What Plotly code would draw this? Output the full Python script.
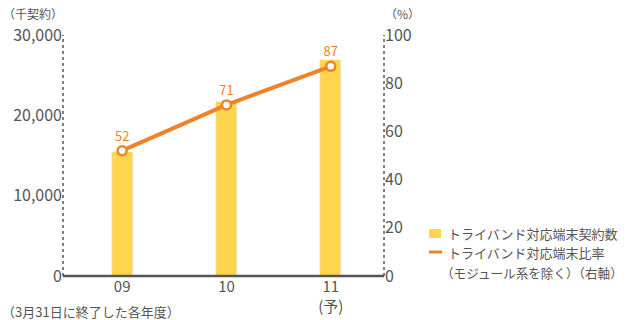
import plotly.graph_objects as go

categories = ["09", "10", "11"]
tick_labels = ["09", "10", "11<br>(予)"]
contracts = [15400, 21700, 26900]
ratio = [52, 71, 87]
legend_bar = "トライバンド対応端末契約数"
legend_line = ["トライバンド対応端末比率", "（モジュール系を除く）（右軸）"]

x = list(range(len(categories)))
FONT = "Noto Sans CJK JP"
GRAY = "#555555"
ORANGE = "#F08228"
YELLOW = "#FFD54F"
W, H = 628, 320
L, R, T, B = 63, 244, 35, 44
PW, PH = W - L - R, H - T - B


def px(xp):
    return (xp - L) / PW


def py(yp):
    return (H - B - yp) / PH


fig = go.Figure()
fig.add_trace(go.Bar(
    x=x, y=contracts, width=0.2, marker_color=YELLOW,
    name=legend_bar, yaxis="y", showlegend=False,
))
fig.add_trace(go.Scatter(
    x=x, y=ratio, yaxis="y2", mode="lines+markers+text",
    line=dict(color=ORANGE, width=4),
    marker=dict(size=9, color="white", line=dict(color=ORANGE, width=2.5)),
    text=[str(v) for v in ratio], textposition="top center",
    textfont=dict(color=ORANGE, size=13, family=FONT),
    showlegend=False,
))

fig.update_layout(
    width=W, height=H,
    margin=dict(l=L, r=R, t=T, b=B, autoexpand=False),
    plot_bgcolor="white", paper_bgcolor="white",
    font=dict(family=FONT, color=GRAY, size=15),
    showlegend=False,
    xaxis=dict(tickmode="array", tickvals=x, ticktext=tick_labels,
               range=[-0.567, 2.51], showgrid=False, zeroline=False,
               ticks="", tickfont=dict(size=15, color=GRAY), automargin=False),
    yaxis=dict(range=[0, 30000], tickvals=[0, 10000, 20000, 30000],
               tickformat=",", showgrid=False, zeroline=False,
               ticks="", tickfont=dict(size=16, color=GRAY), automargin=False),
    yaxis2=dict(range=[0, 100], tickvals=[0, 20, 40, 60, 80, 100],
                overlaying="y", side="right", showgrid=False,
                zeroline=False, ticks="", tickfont=dict(size=16, color=GRAY),
                automargin=False),
    bargap=0,
)

# axis lines
fig.add_shape(type="line", xref="paper", yref="paper", x0=0, x1=0, y0=0, y1=1,
              line=dict(color=GRAY, width=1.5, dash="dot"))
fig.add_shape(type="line", xref="paper", yref="paper", x0=1, x1=1, y0=0, y1=1,
              line=dict(color=GRAY, width=1.5, dash="dot"))
fig.add_shape(type="line", xref="paper", yref="paper", x0=0, x1=1, y0=0, y1=0,
              line=dict(color=GRAY, width=2.5))

# manual legend
fig.add_shape(type="rect", xref="paper", yref="paper",
              x0=px(429), x1=px(441), y0=py(238), y1=py(229),
              fillcolor=YELLOW, line=dict(width=0))
fig.add_shape(type="line", xref="paper", yref="paper",
              x0=px(429), x1=px(442), y0=py(252), y1=py(252),
              line=dict(color=ORANGE, width=3))
fig.add_annotation(text=legend_bar, xref="paper", yref="paper",
                   x=px(446), y=py(233), xanchor="left", yanchor="middle",
                   showarrow=False, font=dict(size=13, color=GRAY))
fig.add_annotation(text=legend_line[0], xref="paper", yref="paper",
                   x=px(446), y=py(252.5), xanchor="left", yanchor="middle",
                   showarrow=False, font=dict(size=13, color=GRAY))
fig.add_annotation(text=legend_line[1], xref="paper", yref="paper",
                   x=px(439), y=py(272), xanchor="left", yanchor="middle",
                   showarrow=False, font=dict(size=12.6, color=GRAY))

# unit labels and footnote
fig.add_annotation(text="（千契約）", xref="paper", yref="paper",
                   x=px(1), y=py(13), xanchor="left", yanchor="middle",
                   showarrow=False, font=dict(size=12, color=GRAY))
fig.add_annotation(text="（%）", xref="paper", yref="paper",
                   x=px(383), y=py(13), xanchor="left", yanchor="middle",
                   showarrow=False, font=dict(size=12, color=GRAY))
fig.add_annotation(text="（3月31日に終了した各年度）", xref="paper", yref="paper",
                   x=px(0), y=py(311), xanchor="left", yanchor="middle",
                   showarrow=False, font=dict(size=13, color=GRAY))

fig.write_html("out.html")
